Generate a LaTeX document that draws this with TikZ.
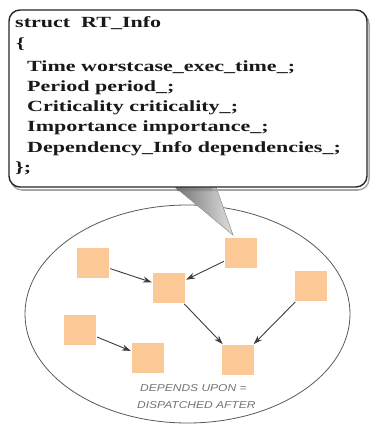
\documentclass[tikz,border=0pt]{standalone}
\usepackage{fontspec}
\usepackage{graphicx}
\setmainfont{Liberation Serif}
\setsansfont{Liberation Sans}
\usetikzlibrary{arrows.meta,shapes.geometric}
\definecolor{sqfill}{RGB}{251,200,150}
\definecolor{edge}{RGB}{60,60,60}
\newcommand\wtxt[1]{\scalebox{1.42}[1]{#1}}
\newcommand\ctxt[1]{\scalebox{1.2}[1]{#1}}
\tikzset{
  task/.style={rectangle, fill=sqfill, minimum width=32pt, minimum height=30pt, inner sep=0pt},
  dep/.style={draw=edge, line width=0.9pt, -{Stealth[length=9pt,width=6pt]}, shorten <=1pt, shorten >=1pt},
  codeline/.style={anchor=base west, inner sep=0pt, font=\fontsize{15.5}{18}\selectfont\bfseries, text=black!90},
  caption/.style={anchor=base west, inner sep=0pt, font=\fontsize{10}{12}\selectfont\sffamily\itshape, text=black!55}
}
\begin{document}
\begin{tikzpicture}[x=1pt,y=-1pt]
\useasboundingbox (0,0) rectangle (372,430);
% group ellipse
\node[ellipse, draw=black!65, line width=0.8pt, minimum width=325pt, minimum height=218pt, inner sep=0pt] (group) at (187.5,314) {};
% tasks
\node[task] (a) at (93,263) {};
\node[task] (b) at (169,288) {};
\node[task] (c) at (241,253) {};
\node[task] (d) at (311,286) {};
\node[task] (e) at (80,330) {};
\node[task] (f) at (148,358) {};
\node[task] (g) at (238,360) {};
% dependencies
\draw[dep] (a) -- (b);
\draw[dep] (c) -- (b);
\draw[dep] (b) -- (g);
\draw[dep] (d) -- (g);
\draw[dep] (e) -- (f);
% caption
\node[caption] (cap1) at (140,391) {\ctxt{DEPENDS UPON =}};
\node[caption] (cap2) at (137,408) {\ctxt{DISPATCHED AFTER}};
% callout pointer
\coordinate (tip) at (233,235);
\shade[left color=black!55, right color=black!12, draw=black!45, line width=0.5pt] (175,187) -- (216,187) -- (tip) -- cycle;
% callout box shadow and box
\draw[black!35, line width=1.5pt, rounded corners=11pt] (11,13) rectangle (369,190);
\node[draw=black!85, fill=white, line width=1.4pt, rounded corners=11pt, minimum width=358pt, minimum height=177pt, inner sep=0pt] (box) at (188,98.5) {};
\shade[left color=black!55, right color=black!40, draw=none] (176.5,188.2) -- (212,188.2) -- (213,191) -- (177.5,191) -- cycle;
% code text
\node[codeline] (l1) at (15,28) {\wtxt{struct\ \ RT\_Info}};
\node[codeline] (l2) at (16,49) {\wtxt{\{}};
\node[codeline] (l3) at (27,72) {\wtxt{Time worstcase\_exec\_time\_;}};
\node[codeline] (l4) at (27,92) {\wtxt{Period period\_;}};
\node[codeline] (l5) at (27,112) {\wtxt{Criticality criticality\_;}};
\node[codeline] (l6) at (27,132) {\wtxt{Importance importance\_;}};
\node[codeline] (l7) at (27,153) {\wtxt{Dependency\_Info dependencies\_;}};
\node[codeline] (l8) at (15,173) {\wtxt{\};}};
\end{tikzpicture}
\end{document}
